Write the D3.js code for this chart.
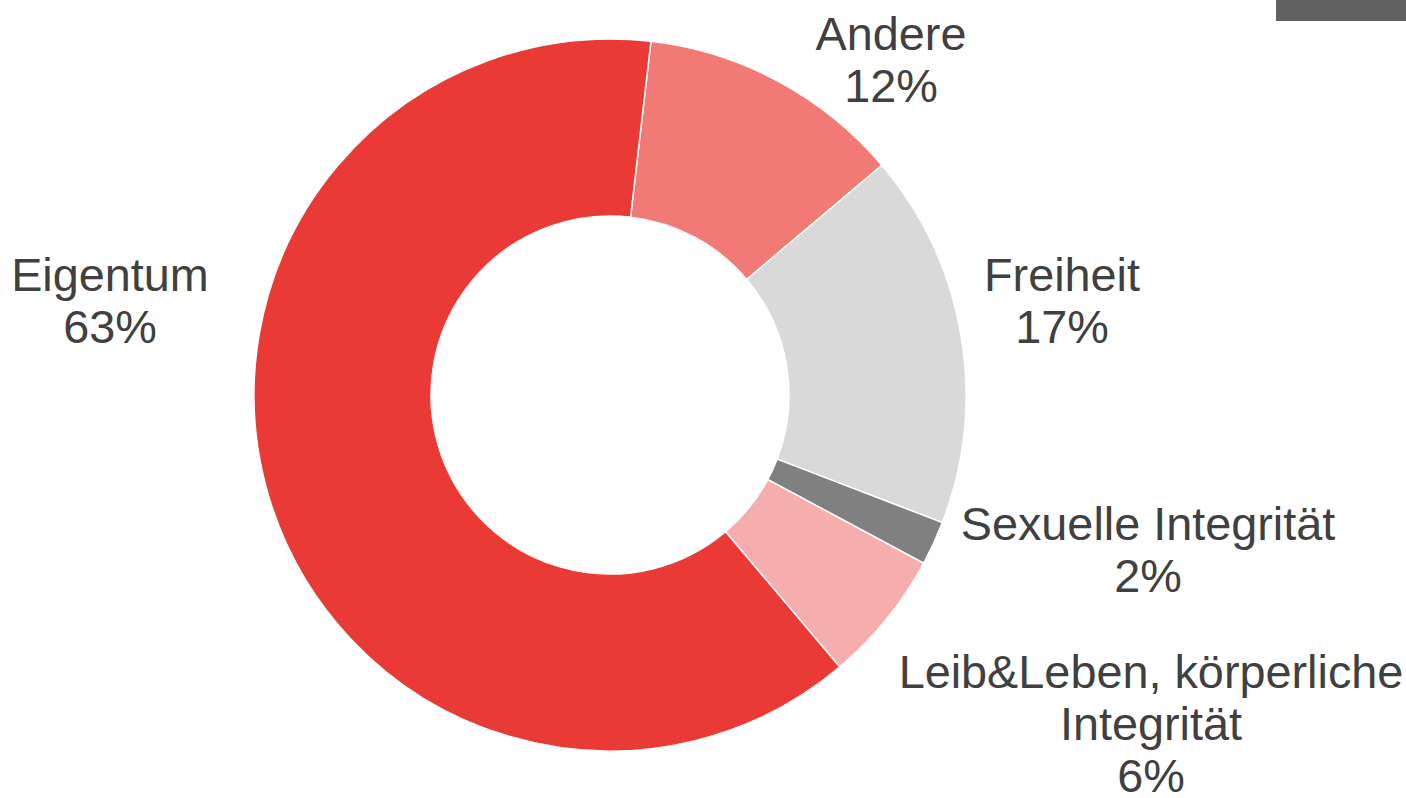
<!DOCTYPE html>
<html>
<head>
<meta charset="utf-8">
<script src="https://cdn.jsdelivr.net/npm/d3@7"></script>
<style>
  body { margin: 0; background: #fff; }
  svg { display: block; }
</style>
</head>
<body>
<div id="chart"></div>
<script>
var SVGWidth = 1406;
var SVGHeight = 798;

// data
var categories = ["Andere", "Freiheit", "Sexuelle Integrität", "Leib&Leben, körperliche Integrität", "Eigentum"];
var shares = [12, 17, 2, 6, 63];
var colors = ["#F17A77", "#D9D9D9", "#808080", "#F5AEAD", "#E93A35"];

// label lines (name split the way the chart wraps it)
var labelLines = [
    ["Andere"],
    ["Freiheit"],
    ["Sexuelle Integrität"],
    ["Leib&Leben, körperliche", "Integrität"],
    ["Eigentum"]
];

// layout
var cx = 610, cy = 395;
var outerR = 356, innerR = 179;
var startDeg = 6.6;
var fontSize = 46.8, lineH = 52;
// label anchor (center x, first baseline y), placed by hand like Excel's best fit
var labelPos = [[891, 50], [1062, 291], [1148, 540], [1151, 688], [110, 291]];

var svg = d3.select("#chart")
    .append("svg")
    .attr("width", SVGWidth)
    .attr("height", SVGHeight);

var pie = d3.pie()
    .sort(null)
    .value(function(d) { return d; })
    .startAngle(startDeg * Math.PI / 180)
    .endAngle(startDeg * Math.PI / 180 + 2 * Math.PI);

var arc = d3.arc()
    .innerRadius(innerR)
    .outerRadius(outerR);

var g = svg.append("g")
    .attr("transform", "translate(" + cx + "," + cy + ")");

g.selectAll("path")
    .data(pie(shares))
    .enter()
    .append("path")
    .attr("d", arc)
    .attr("fill", function(d, i) { return colors[i]; })
    .attr("stroke", "#fff")
    .attr("stroke-width", 1.5);

// data labels
var labels = svg.selectAll("text.lbl")
    .data(categories)
    .enter()
    .append("text")
    .attr("class", "lbl")
    .attr("text-anchor", "middle")
    .attr("font-family", "'Liberation Sans', Arial, sans-serif")
    .attr("font-size", fontSize)
    .attr("fill", "#404040");

labels.each(function(d, i) {
    var t = d3.select(this);
    var lines = labelLines[i].concat([shares[i] + "%"]);
    lines.forEach(function(line, j) {
        t.append("tspan")
            .attr("x", labelPos[i][0])
            .attr("y", labelPos[i][1] + j * lineH)
            .text(line);
    });
});

// the dark tab at the top right corner, cut off by the picture edge
svg.append("rect")
    .attr("x", 1276)
    .attr("y", 0)
    .attr("width", 130)
    .attr("height", 21)
    .attr("fill", "#616161");
</script>
</body>
</html>
